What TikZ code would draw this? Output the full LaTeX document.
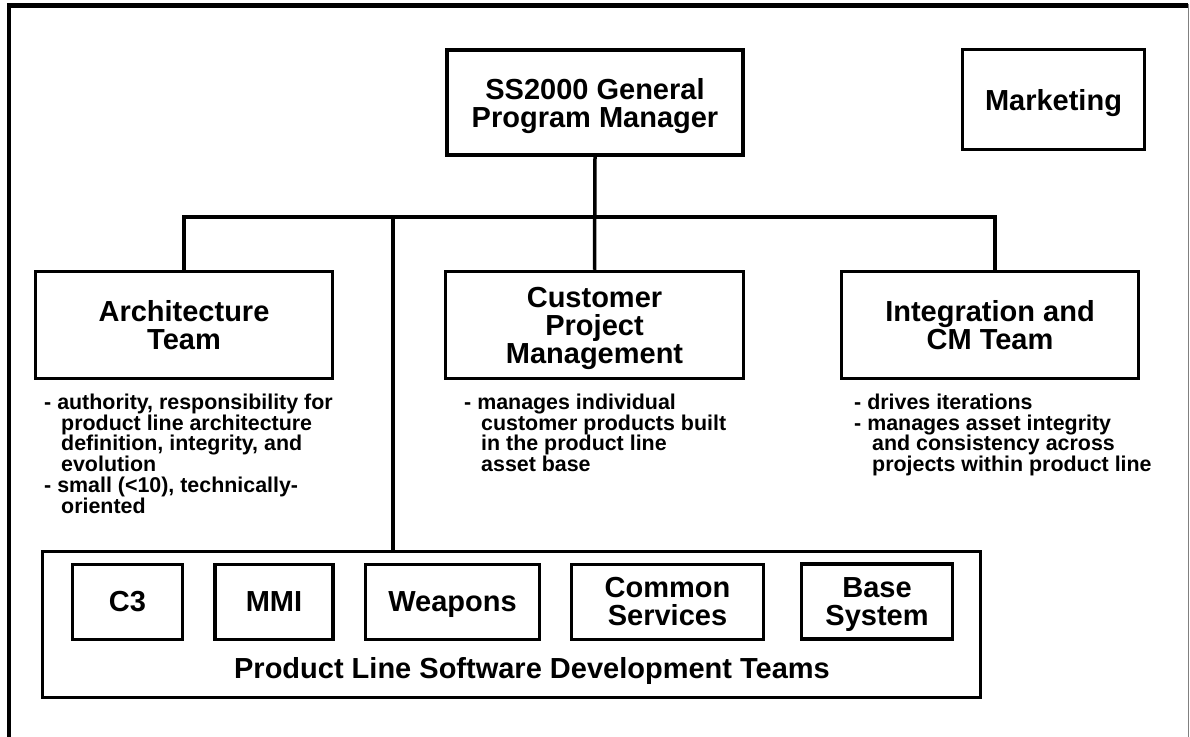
\documentclass[tikz,border=0pt]{standalone}
\usepackage{fontspec}
\setmainfont{Liberation Sans}
\newcommand{\nodp}[1]{\raisebox{0pt}[\height][0pt]{#1}}
\begin{document}
\begin{tikzpicture}[x=1pt,y=-1pt,
  box/.style={draw, line width=3.5pt, align=center, inner sep=0pt, font=\fontsize{29}{28}\selectfont\bfseries},
  desc/.style={anchor=north west, align=left, inner sep=0pt, font=\fontsize{21.4}{20.8}\selectfont\bfseries},
  link/.style={line width=3.5pt}]
\useasboundingbox (0,0) rectangle (1190,736);
% frame
\draw[line width=4.5pt] (6.8,5.7) -- (1188.4,5.7);
\draw[line width=4pt] (8.8,3.5) -- (8.8,740);
\draw[gray, line width=1.2pt] (1188.4,3.5) -- (1188.4,740);
% top boxes
\node[box, minimum width=296pt, minimum height=105pt] (gpm) at (595,102.5) {SS2000 General\\\nodp{Program Manager}};
\node[box, minimum width=182pt, minimum height=100pt] (mkt) at (1053.5,99.5) {\nodp{Marketing}};
% second row
\node[box, minimum width=297pt, minimum height=107pt] (arch) at (184,325) {Architecture\\Team};
\node[box, minimum width=298pt, minimum height=107pt] (cpm) at (594.5,325) {Customer\\Project\\\nodp{Management}};
\node[box, minimum width=297pt, minimum height=107pt] (icm) at (990,325) {Integration and\\CM Team};
% product line box
\node[box, minimum width=938pt, minimum height=146pt] (pl) at (511.5,624.5) {};
\node[box, minimum width=110pt, minimum height=75pt] (c3) at (127.5,602) {C3};
\node[box, minimum width=118pt, minimum height=75pt] (mmi) at (274,602) {MMI};
\node[box, minimum width=174pt, minimum height=75pt] (weap) at (452.5,602) {\nodp{Weapons}};
\node[box, minimum width=192pt, minimum height=75pt] (comm) at (667.5,602) {Common\\Services};
\node[box, minimum width=151pt, minimum height=75pt] (base) at (877,601.5) {Base\\\nodp{System}};
\node[anchor=base, inner sep=0pt, font=\fontsize{29}{28}\selectfont\bfseries] (pllabel) at (532,678.5) {Product Line Software Development Teams};
% connectors
\coordinate (busR) at (995,217);
\coordinate (busM) at (393,217);
\draw[link] (gpm.south) -- (cpm.north);
\draw[link] (arch.north) |- (busR) -- (busR |- icm.north);
\draw[link] (busM) -- (busM |- pl.north);
% descriptions
\node[desc] (archd) at (44,393.5) {- authority, responsibility for\\\hspace*{17pt}product line architecture\\\hspace*{17pt}definition, integrity, and\\\hspace*{17pt}evolution\\- small (<10), technically-\\\hspace*{17pt}oriented};
\node[desc] (cpmd) at (464,393.5) {- manages individual\\\hspace*{17pt}customer products built\\\hspace*{17pt}in the product line\\\hspace*{17pt}asset base};
\node[desc] (icmd) at (854,393.5) {- drives iterations\\- manages asset integrity\\\hspace*{18pt}and consistency across\\\hspace*{18pt}projects within product line};
\end{tikzpicture}
\end{document}
